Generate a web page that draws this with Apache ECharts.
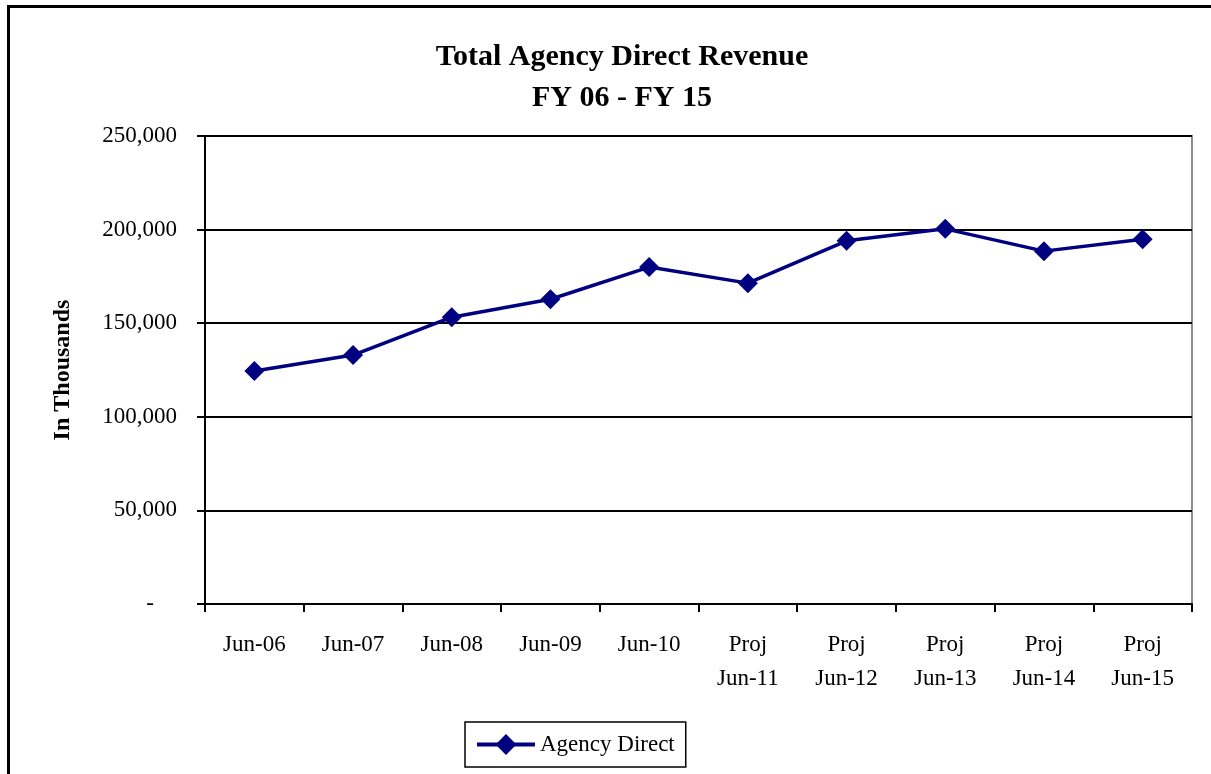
<!DOCTYPE html>
<html>
<head>
<meta charset="utf-8">
<script src="https://cdn.jsdelivr.net/npm/echarts@6/dist/echarts.min.js"></script>
<style>
  html, body { margin: 0; padding: 0; background: #fff; }
  #chart { width: 1211px; height: 774px; position: relative; }
  /* outer chart frame, runs off the right and bottom edge */
  .frame {
    position: absolute; left: 7px; top: 5px; width: 1230px; height: 800px;
    border: 3px solid #000; box-sizing: border-box; pointer-events: none;
  }
</style>
</head>
<body>
<div id="chart"></div>
<div class="frame"></div>
<script>
// categories on the x axis
const categories = ['Jun-06', 'Jun-07', 'Jun-08', 'Jun-09', 'Jun-10',
  'Proj\nJun-11', 'Proj\nJun-12', 'Proj\nJun-13', 'Proj\nJun-14', 'Proj\nJun-15']
// revenue, in thousands
const agencyDirect = [124500, 133000, 153200, 162800, 180000, 171400, 194000, 200400, 188500, 194900]
// y axis ticks
const yMin = 0
const yMax = 250000
const yStep = 50000

const font = '"Liberation Serif", "DejaVu Serif", serif'

let mychart = echarts.init(document.getElementById('chart'))
mychart.setOption({
  animation: false,
  textStyle: { fontFamily: font, color: '#000' },
  title: {
    text: 'Total Agency Direct Revenue\nFY 06 - FY 15',
    left: 617,
    top: 32,
    textAlign: 'center',
    textStyle: { fontSize: 30, fontWeight: 'bold', lineHeight: 41, fontFamily: font, color: '#000' }
  },
  grid: { left: 205, top: 136, right: 19, bottom: 170, show: true, borderColor: '#8c8c8c', borderWidth: 2 },
  xAxis: {
    type: 'category',
    data: categories,
    boundaryGap: true,
    axisLine: { lineStyle: { color: '#000', width: 2 } },
    axisTick: { show: true, length: 8, lineStyle: { color: '#000', width: 2 } },
    axisLabel: { fontSize: 23, lineHeight: 34, margin: 24, color: '#000', fontFamily: font, interval: 0 },
    splitLine: { show: false }
  },
  yAxis: {
    type: 'value',
    min: yMin,
    max: yMax,
    interval: yStep,
    name: 'In Thousands',
    nameLocation: 'middle',
    nameGap: 130,
    nameRotate: 90,
    nameTextStyle: { fontSize: 24, fontWeight: 'bold', color: '#000', fontFamily: font },
    axisLine: { show: true, lineStyle: { color: '#000', width: 2 } },
    axisTick: { show: true, length: 8, lineStyle: { color: '#000', width: 2 } },
    axisLabel: {
      fontSize: 23, margin: 28, color: '#000', fontFamily: font,
      formatter: function (v) {
        return v === 0 ? '-    ' : v.toLocaleString('en-US')
      }
    },
    splitLine: { show: true, lineStyle: { color: '#000', width: 2 } }
  },
  legend: {
    data: ['Agency Direct'],
    left: 465,
    top: 722,
    padding: [11, 11, 11, 10],
    borderColor: '#000',
    borderWidth: 1.5,
    itemWidth: 58,
    itemHeight: 26,
    itemGap: 6,
    lineStyle: { width: 4 },
    textStyle: { fontSize: 23, color: '#000', fontFamily: font }
  },
  series: [
    {
      name: 'Agency Direct',
      type: 'line',
      data: agencyDirect,
      symbol: 'diamond',
      symbolSize: 20,
      lineStyle: { color: '#000080', width: 3.5 },
      itemStyle: { color: '#000080' }
    }
  ]
})
</script>
</body>
</html>
